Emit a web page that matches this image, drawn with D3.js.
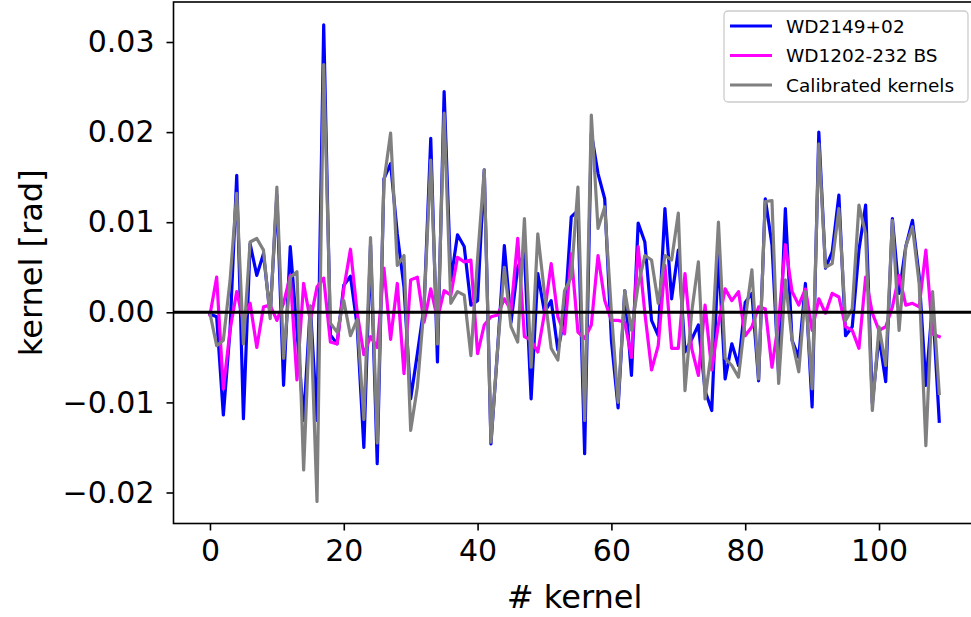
<!DOCTYPE html>
<html>
<head>
<meta charset="utf-8">
<script src="https://cdn.jsdelivr.net/npm/d3@7"></script>
<style>
  html, body { margin: 0; padding: 0; background: #fff; }
  svg { display: block; font-family: "DejaVu Sans", sans-serif; }
</style>
</head>
<body>
<svg id="chart" width="971" height="617"></svg>
<script>
const seriesNames = ["WD2149+02", "WD1202-232 BS", "Calibrated kernels"];
const seriesColors = ["#0000ff", "#ff00ff", "#808080"];

const wd2149 = [
  -0.0002, -0.0005, -0.0114, -0.0020, 0.0152, -0.0118, 0.0076, 0.0041, 0.0065, -0.0003,
  0.0130, -0.0081, 0.0073, -0.0020, -0.0120, 0.0007, -0.0120, 0.0319, -0.0025, -0.0035,
  0.0030, 0.0040, -0.0015, -0.0150, 0.0075, -0.0168, 0.0148, 0.0165, 0.0087, 0.0028,
  -0.0096, -0.0046, 0.0006, 0.0193, -0.0055, 0.0245, 0.0035, 0.0086, 0.0073, 0.0008,
  0.0013, 0.0158, -0.0146, -0.0040, 0.0074, -0.0011, 0.0050, 0.0065, -0.0096, 0.0043,
  0.0000, 0.0013, -0.0042, -0.0005, 0.0106, 0.0113, -0.0157, 0.0199, 0.0154, 0.0126,
  -0.0031, -0.0106, 0.0024, -0.0070, 0.0099, 0.0078, -0.0009, -0.0026, 0.0115, 0.0015,
  0.0069, -0.0044, -0.0030, -0.0014, -0.0087, -0.0109, 0.0065, -0.0074, -0.0035, -0.0059,
  0.0011, 0.0021, -0.0076, 0.0126, 0.0075, -0.0070, 0.0115, -0.0031, -0.0050, 0.0032,
  -0.0105, 0.0200, 0.0049, 0.0067, 0.0130, -0.0026, -0.0016, 0.0069, 0.0119, -0.0101,
  -0.0027, -0.0077, 0.0104, 0.0021, 0.0073, 0.0102, 0.0040, -0.0081, 0.0010, -0.0121
];

const wd1202 = [
  -0.0003, 0.0039, -0.0085, -0.0020, 0.0023, -0.0010, 0.0010, -0.0039, 0.0006, 0.0008,
  -0.0009, 0.0010, 0.0041, -0.0075, 0.0032, -0.0009, 0.0028, 0.0038, -0.0033, -0.0035,
  0.0026, 0.0070, 0.0000, -0.0047, -0.0027, -0.0039, 0.0049, -0.0030, 0.0032, -0.0068,
  0.0036, 0.0039, -0.0011, 0.0026, -0.0007, 0.0024, 0.0019, 0.0061, 0.0056, 0.0058,
  -0.0046, -0.0014, -0.0005, -0.0003, 0.0015, 0.0002, 0.0082, -0.0027, -0.0031, -0.0044,
  -0.0001, 0.0054, -0.0005, -0.0024, 0.0065, -0.0022, -0.0029, -0.0014, 0.0063, 0.0013,
  -0.0009, -0.0009, -0.0011, -0.0050, 0.0073, -0.0001, -0.0064, -0.0037, 0.0052, -0.0040,
  -0.0040, 0.0043, -0.0040, -0.0070, 0.0008, -0.0064, -0.0013, 0.0026, 0.0013, 0.0023,
  -0.0026, -0.0016, 0.0006, 0.0004, -0.0061, -0.0010, 0.0075, 0.0023, 0.0008, 0.0026,
  -0.0020, 0.0015, -0.0001, 0.0021, 0.0017, -0.0016, -0.0020, -0.0040, 0.0039, -0.0001,
  -0.0020, -0.0016, 0.0006, 0.0041, 0.0008, 0.0010, 0.0006, 0.0069, -0.0024, -0.0027
];

const calibrated = [
  -0.0001, -0.0037, -0.0031, 0.0035, 0.0132, -0.0035, 0.0078, 0.0082, 0.0069, -0.0007,
  0.0139, -0.0051, 0.0039, 0.0045, -0.0175, 0.0007, -0.0210, 0.0275, -0.0012, -0.0022,
  0.0013, -0.0026, -0.0008, -0.0119, 0.0083, -0.0145, 0.0145, 0.0199, 0.0052, 0.0063,
  -0.0131, -0.0083, 0.0006, 0.0169, -0.0035, 0.0221, 0.0010, 0.0023, 0.0019, -0.0048,
  0.0060, 0.0158, -0.0144, -0.0040, 0.0050, -0.0016, -0.0033, 0.0104, -0.0061, 0.0087,
  0.0021, -0.0040, -0.0053, 0.0024, 0.0039, 0.0139, -0.0120, 0.0219, 0.0093, 0.0117,
  0.0000, -0.0100, 0.0024, -0.0020, 0.0030, 0.0063, 0.0058, 0.0010, 0.0063, 0.0058,
  0.0110, -0.0087, 0.0000, 0.0056, -0.0096, -0.0040, 0.0100, -0.0051, -0.0059, -0.0072,
  -0.0008, 0.0047, -0.0074, 0.0123, 0.0124, -0.0079, 0.0036, -0.0031, -0.0066, 0.0023,
  -0.0085, 0.0187, 0.0050, 0.0054, 0.0115, -0.0009, 0.0004, 0.0119, 0.0087, -0.0109,
  -0.0016, -0.0059, 0.0102, -0.0020, 0.0073, 0.0095, 0.0032, -0.0148, 0.0023, -0.0090
];

const xTicks = [0, 20, 40, 60, 80, 100];
const yTicks = [-0.02, -0.01, 0.00, 0.01, 0.02, 0.03];
const xLabel = "# kernel";
const yLabel = "kernel [rad]";

const svg = d3.select("#chart");
const W = 971, H = 617;
const plot = { left: 173.5, top: 2, right: 975.7, bottom: 523.5 };

svg.append("rect").attr("width", W).attr("height", H).attr("fill", "#fff");

const x = d3.scaleLinear().domain([-5.45, 114.45]).range([plot.left, plot.right]);
const y = d3.scaleLinear().domain([-0.02344, 0.03444]).range([plot.bottom, plot.top]);

svg.append("defs").append("clipPath").attr("id", "clip")
  .append("rect")
  .attr("x", plot.left).attr("y", plot.top)
  .attr("width", plot.right - plot.left).attr("height", plot.bottom - plot.top);

const g = svg.append("g").attr("clip-path", "url(#clip)");
const line = d3.line().x((d, i) => x(i)).y(d => y(d));

const allSeries = [wd2149, wd1202, calibrated];
allSeries.forEach((s, k) => {
  g.append("path")
    .datum(s)
    .attr("d", line)
    .attr("fill", "none")
    .attr("stroke", seriesColors[k])
    .attr("stroke-width", 3.2)
    .attr("stroke-linejoin", "round")
    .attr("stroke-linecap", "square");
});

// zero line
g.append("line")
  .attr("x1", plot.left).attr("x2", plot.right)
  .attr("y1", y(0)).attr("y2", y(0))
  .attr("stroke", "#000").attr("stroke-width", 3);

// axes
const fmt = d3.format(".2f");
const yAxis = d3.axisLeft(y).tickValues(yTicks).tickFormat(fmt).tickSize(7).tickPadding(12);
const xAxis = d3.axisBottom(x).tickValues(xTicks).tickFormat(d3.format("d")).tickSize(7).tickPadding(9);

const ya = svg.append("g").attr("transform", `translate(${plot.left},0)`).call(yAxis);
const xa = svg.append("g").attr("transform", `translate(0,${plot.bottom})`).call(xAxis);
[ya, xa].forEach(a => {
  a.select(".domain").remove();
  a.selectAll(".tick line").attr("stroke", "#000").attr("stroke-width", 1.6);
  a.selectAll(".tick text").attr("fill", "#000")
    .style("font-family", "'DejaVu Sans', sans-serif").style("font-size", "30px");
});

// spines
svg.append("rect")
  .attr("x", plot.left).attr("y", plot.top)
  .attr("width", plot.right - plot.left).attr("height", plot.bottom - plot.top)
  .attr("fill", "none").attr("stroke", "#000").attr("stroke-width", 1.6);

// axis labels
svg.append("text")
  .attr("x", (plot.left + plot.right) / 2).attr("y", 608)
  .attr("text-anchor", "middle")
  .style("font-size", "32px").attr("fill", "#000")
  .text(xLabel);

svg.append("text")
  .attr("transform", `translate(42,${(plot.top + plot.bottom) / 2}) rotate(-90)`)
  .attr("text-anchor", "middle")
  .style("font-size", "32px").attr("fill", "#000")
  .text(yLabel);

// legend
const lg = svg.append("g").attr("transform", "translate(724,11)");
lg.append("rect")
  .attr("width", 244).attr("height", 91).attr("rx", 4).attr("ry", 4)
  .attr("fill", "#fff").attr("fill-opacity", 0.8)
  .attr("stroke", "#cccccc").attr("stroke-width", 1.3);
seriesNames.forEach((name, k) => {
  const cy = 15 + k * 29.5;
  lg.append("line")
    .attr("x1", 6).attr("x2", 48).attr("y1", cy).attr("y2", cy)
    .attr("stroke", seriesColors[k]).attr("stroke-width", 3.2);
  lg.append("text")
    .attr("x", 62).attr("y", cy).attr("dy", "0.36em")
    .style("font-size", "18.5px").attr("fill", "#000")
    .text(name);
});
</script>
</body>
</html>
